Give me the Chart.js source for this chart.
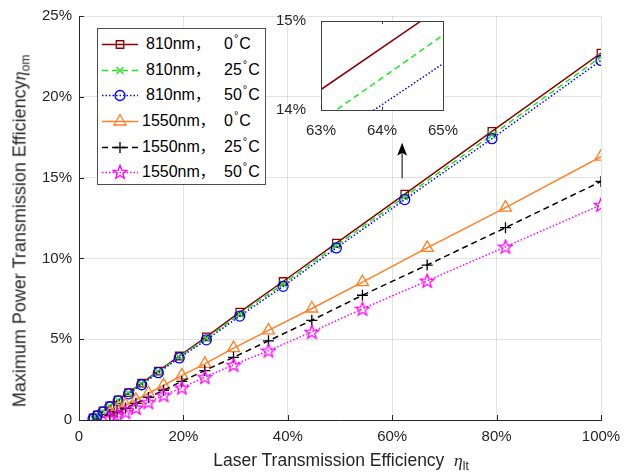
<!DOCTYPE html>
<html lang="en">
<head>
    <meta charset="UTF-8">
    <title>Maximum Power Transmission Efficiency</title>
    <script src="https://cdn.jsdelivr.net/npm/chart.js"></script>
    <style>
        body { margin: 0; background: #fff; }
        #wrap { position: relative; width: 631px; height: 474px; font-family: "Liberation Sans", Arial, sans-serif; color: #262626; }
        #mainChart { position: absolute; left: 0; top: 0; }
        #insetChart { position: absolute; left: 270px; top: 5px; }
        .eta { font-family: "Liberation Serif", serif; font-style: italic; }
        #xTitle { position: absolute; left: 0; width: 682px; top: 450px; text-align: center; font-size: 17.5px; white-space: nowrap; }
        #yTitle { position: absolute; left: 21px; top: 231px; transform: translate(-50%, -50%) rotate(-90deg); font-size: 18px; white-space: nowrap; }
        sub { font-size: 12px; vertical-align: -4px; font-family: "Liberation Sans", Arial, sans-serif; font-style: normal; }
        #legend { position: absolute; left: 97px; top: 28px; width: 167px; height: 155px; border: 1px solid #4d4d4d; background: #fff; }
        .row { position: absolute; left: 0; height: 24px; width: 100%; font-size: 16px; line-height: 20px; color: #000; }
        .row canvas { position: absolute; left: 2px; top: 2px; }
        .row .nm { position: absolute; top: 2px; line-height: 20px; }
        .row .tc { position: absolute; left: 126px; top: 2px; line-height: 20px; }
        .cm { font-family: "Noto Sans CJK SC", sans-serif; font-size: 15px; line-height: 10px; }
        .deg { font-size: 11px; position: relative; top: -7px; padding: 0 1px; line-height: 10px; }
    </style>
</head>
<body>
<div id="wrap">
    <canvas id="mainChart" width="631" height="474"></canvas>
    <canvas id="insetChart" width="195" height="140"></canvas>
    <div id="legend"></div>
    <div id="xTitle">Laser Transmission Efficiency&nbsp; <span class="eta">η</span><sub>lt</sub></div>
    <div id="yTitle">Maximum Power Transmission Efficiency<span class="eta">η</span><sub>om</sub></div>
</div>

<script>
    // laser transmission efficiency (%) for each wavelength
    const x810 = [2.7, 3.5, 4.6, 5.9, 7.5, 9.5, 12.0, 15.2, 19.2, 24.4, 30.8, 39.1, 49.3, 62.4, 79.1, 100];
    const x1550 = [5.9, 7.3, 8.9, 10.9, 13.3, 16.2, 19.7, 24.1, 29.6, 36.3, 44.6, 54.3, 66.7, 81.7, 100];

    // maximum power transmission efficiency (%)
    const y810_0 = [0.13, 0.31, 0.57, 0.87, 1.24, 1.7, 2.28, 3.03, 3.96, 5.15, 6.68, 8.57, 10.94, 13.98, 17.86, 22.7];
    const y810_25 = [0.1, 0.28, 0.53, 0.85, 1.21, 1.66, 2.23, 2.98, 3.9, 5.05, 6.55, 8.42, 10.8, 13.81, 17.63, 22.47];
    const y810_50 = [0.08, 0.26, 0.5, 0.82, 1.18, 1.62, 2.18, 2.93, 3.84, 4.96, 6.43, 8.27, 10.65, 13.64, 17.41, 22.25];
    const y1550_0 = [0.42, 0.66, 0.93, 1.25, 1.65, 2.14, 2.76, 3.47, 4.45, 5.55, 6.9, 8.53, 10.65, 13.14, 16.3];
    const y1550_25 = [0.3, 0.5, 0.74, 1.03, 1.4, 1.84, 2.39, 3.06, 3.88, 4.9, 6.17, 7.72, 9.59, 11.9, 14.76];
    const y1550_50 = [0.1, 0.29, 0.49, 0.75, 1.1, 1.53, 2.0, 2.65, 3.41, 4.29, 5.45, 6.88, 8.61, 10.72, 13.31];

    const seriesNames = ['810nm', '810nm', '810nm', '1550nm', '1550nm', '1550nm'];
    const seriesTemps = ['0', '25', '50', '0', '25', '50'];

    const xTicks = [0, 20, 40, 60, 80, 100];
    const yTicks = [0, 5, 10, 15, 20, 25];

    // zoomed inset (63%..65%, 14%..15%)
    const insetX = [63, 65];
    const insetY810_0 = [14.23, 15.17];
    const insetY810_25 = [13.88, 14.84];
    const insetY810_50 = [13.6, 14.52];

    const axisColor = '#262626';
    const gridColor = 'rgba(38,38,38,0.13)';
    const tickFont = { family: 'Liberation Sans', size: 15 };

    function starImage(color) {
        const c = document.createElement('canvas');
        c.width = c.height = 16;
        const g = c.getContext('2d');
        g.strokeStyle = color;
        g.lineWidth = 1.3;
        g.beginPath();
        for (let i = 0; i < 10; i++) {
            const r = i % 2 ? 3 : 7.2;
            const a = -Math.PI / 2 + i * Math.PI / 5;
            g.lineTo(8 + r * Math.cos(a), 8.5 + r * Math.sin(a));
        }
        g.closePath();
        g.stroke();
        return c;
    }

    const styles = [
        { color: '#8b0000', dash: [], point: 'rect', radius: 5.3 },
        { color: '#22e622', dash: [6, 4], point: 'crossRot', radius: 5 },
        { color: '#0000ff', dash: [1.5, 2], point: 'circle', radius: 5 },
        { color: '#ff7f24', dash: [], point: 'triangle', radius: 7 },
        { color: '#000000', dash: [6, 4], point: 'cross', radius: 5.5 },
        { color: '#ff00ff', dash: [1.5, 2], point: starImage('#ff00ff'), radius: 7 }
    ];

    function pts(xs, ys) {
        return xs.map((x, i) => ({ x: x, y: ys[i] }));
    }

    const allData = [
        pts(x810, y810_0), pts(x810, y810_25), pts(x810, y810_50),
        pts(x1550, y1550_0), pts(x1550, y1550_25), pts(x1550, y1550_50)
    ];

    const datasets = allData.map((d, i) => ({
        label: seriesNames[i] + '，' + seriesTemps[i] + '°C',
        data: d,
        borderColor: styles[i].color,
        backgroundColor: 'rgba(0,0,0,0)',
        borderWidth: 1.5,
        borderDash: styles[i].dash,
        pointStyle: styles[i].point,
        pointRadius: styles[i].radius,
        pointBorderColor: styles[i].color,
        pointBackgroundColor: 'rgba(0,0,0,0)',
        pointBorderWidth: 1.3,
        order: 5 - i
    }));

    // small inward ticks and the annotation arrow
    const mainExtras = {
        id: 'mainExtras',
        afterDraw(chart) {
            const ctx = chart.ctx, a = chart.chartArea;
            const xs = chart.scales.x, ys = chart.scales.y;
            ctx.save();
            ctx.strokeStyle = axisColor;
            ctx.lineWidth = 1;
            xTicks.forEach(v => {
                const px = Math.round(xs.getPixelForValue(v)) + 0.5;
                ctx.beginPath(); ctx.moveTo(px, a.bottom); ctx.lineTo(px, a.bottom - 5); ctx.stroke();
            });
            yTicks.forEach(v => {
                const py = Math.round(ys.getPixelForValue(v)) + 0.5;
                ctx.beginPath(); ctx.moveTo(a.left, py); ctx.lineTo(a.left + 5, py); ctx.stroke();
            });
            // arrow pointing at the inset
            const ax = xs.getPixelForValue(61.9);
            const top = ys.getPixelForValue(17.15);
            const bot = ys.getPixelForValue(14.95);
            ctx.strokeStyle = '#000';
            ctx.fillStyle = '#000';
            ctx.beginPath(); ctx.moveTo(ax, bot); ctx.lineTo(ax, top + 6); ctx.stroke();
            ctx.beginPath();
            ctx.moveTo(ax, top);
            ctx.lineTo(ax + 5, top + 13);
            ctx.lineTo(ax, top + 10);
            ctx.lineTo(ax - 5, top + 13);
            ctx.closePath();
            ctx.fill();
            ctx.restore();
        }
    };

    new Chart(document.getElementById('mainChart'), {
        type: 'line',
        data: { datasets: datasets },
        options: {
            responsive: false,
            animation: false,
            layout: { padding: { top: 12, right: 30, left: 0, bottom: 0 } },
            plugins: { legend: { display: false }, tooltip: { enabled: false } },
            elements: { line: { tension: 0 } },
            scales: {
                x: {
                    type: 'linear', min: 0, max: 100,
                    afterFit: s => { s.height = 54; },
                    afterBuildTicks: s => { s.ticks = xTicks.map(v => ({ value: v })); },
                    grid: { color: gridColor, drawTicks: false },
                    border: { color: axisColor, width: 1 },
                    ticks: { font: tickFont, color: axisColor, padding: 8, maxRotation: 0,
                        callback: v => v === 0 ? '0' : v + '%' }
                },
                y: {
                    type: 'linear', min: 0, max: 25,
                    afterFit: s => { s.width = 79; },
                    afterBuildTicks: s => { s.ticks = yTicks.map(v => ({ value: v })); },
                    grid: { color: gridColor, drawTicks: false },
                    border: { color: axisColor, width: 1 },
                    ticks: { font: tickFont, color: axisColor, padding: 7,
                        callback: v => v === 0 ? '0' : v + '%' }
                }
            }
        },
        plugins: [mainExtras]
    });

    // inset: white plot area with a dark frame
    const insetFrame = {
        id: 'insetFrame',
        beforeDraw(chart) {
            const a = chart.chartArea, ctx = chart.ctx;
            ctx.save();
            ctx.fillStyle = '#fff';
            ctx.fillRect(a.left, a.top, a.right - a.left, a.bottom - a.top);
            ctx.restore();
        },
        afterDraw(chart) {
            const a = chart.chartArea, ctx = chart.ctx;
            ctx.save();
            ctx.strokeStyle = '#404040';
            ctx.lineWidth = 1;
            ctx.strokeRect(Math.round(a.left) + 0.5, Math.round(a.top) + 0.5, Math.round(a.right - a.left), Math.round(a.bottom - a.top));
            const px = Math.round(chart.scales.x.getPixelForValue(64)) + 0.5;
            ctx.beginPath(); ctx.moveTo(px, a.top); ctx.lineTo(px, a.top + 3); ctx.stroke();
            ctx.beginPath(); ctx.moveTo(px, a.bottom); ctx.lineTo(px, a.bottom - 3); ctx.stroke();
            ctx.restore();
        }
    };

    new Chart(document.getElementById('insetChart'), {
        type: 'line',
        data: {
            datasets: [insetY810_0, insetY810_25, insetY810_50].map((ys, i) => ({
                data: pts(insetX, ys),
                borderColor: styles[i].color,
                borderWidth: 1.5,
                borderDash: styles[i].dash,
                pointRadius: 0,
                order: 2 - i
            }))
        },
        options: {
            responsive: false,
            animation: false,
            layout: { padding: { top: 15, right: 22, left: 0, bottom: 0 } },
            plugins: { legend: { display: false }, tooltip: { enabled: false } },
            scales: {
                x: {
                    type: 'linear', min: 63, max: 65,
                    afterFit: s => { s.height = 35; },
                    afterBuildTicks: s => { s.ticks = [63, 64, 65].map(v => ({ value: v })); },
                    grid: { display: false },
                    border: { display: false },
                    ticks: { font: tickFont, color: axisColor, padding: 4, maxRotation: 0, callback: v => v + '%' }
                },
                y: {
                    type: 'linear', min: 14, max: 15,
                    afterFit: s => { s.width = 51; },
                    afterBuildTicks: s => { s.ticks = [14, 15].map(v => ({ value: v })); },
                    grid: { display: false },
                    border: { display: false },
                    ticks: { font: tickFont, color: axisColor, padding: 7, callback: v => v + '%' }
                }
            }
        },
        plugins: [insetFrame]
    });

    // legend rows: line sample + marker drawn on a small canvas, text as html
    function drawMarker(g, st, x, y) {
        g.setLineDash([]);
        g.lineWidth = 1.3;
        g.strokeStyle = st.color;
        const r = st.radius;
        g.beginPath();
        if (st.point === 'rect') {
            const s = r * Math.SQRT1_2;
            g.rect(x - s, y - s, 2 * s, 2 * s);
        } else if (st.point === 'circle') {
            g.arc(x, y, r, 0, Math.PI * 2);
        } else if (st.point === 'triangle') {
            g.moveTo(x, y - r);
            g.lineTo(x + r * 0.866, y + r * 0.5);
            g.lineTo(x - r * 0.866, y + r * 0.5);
            g.closePath();
        } else if (st.point === 'cross') {
            g.moveTo(x - r, y); g.lineTo(x + r, y);
            g.moveTo(x, y - r); g.lineTo(x, y + r);
        } else if (st.point === 'crossRot') {
            const s = r * Math.SQRT1_2;
            g.moveTo(x - s, y - s); g.lineTo(x + s, y + s);
            g.moveTo(x - s, y + s); g.lineTo(x + s, y - s);
        } else {
            g.drawImage(st.point, x - 8, y - 8.5);
        }
        g.stroke();
    }

    const legend = document.getElementById('legend');
    const rowTops = [3, 29, 54, 80, 106, 131];
    seriesNames.forEach((name, i) => {
        const row = document.createElement('div');
        row.className = 'row';
        row.style.top = rowTops[i] + 'px';
        const c = document.createElement('canvas');
        c.width = 40; c.height = 20;
        const g = c.getContext('2d');
        g.strokeStyle = styles[i].color;
        g.lineWidth = 1.5;
        g.setLineDash(styles[i].dash);
        g.beginPath(); g.moveTo(2, 10.5); g.lineTo(38, 10.5); g.stroke();
        drawMarker(g, styles[i], 20, 10.5);
        row.appendChild(c);
        const nm = document.createElement('span');
        nm.className = 'nm';
        nm.innerHTML = name + '<span class="cm">，</span>';
        nm.style.left = (i < 3 ? 48 : 44) + 'px';
        row.appendChild(nm);
        const tc = document.createElement('span');
        tc.className = 'tc';
        tc.innerHTML = seriesTemps[i] + '<span class="deg">°</span>C';
        row.appendChild(tc);
        legend.appendChild(row);
    });
</script>
</body>
</html>
